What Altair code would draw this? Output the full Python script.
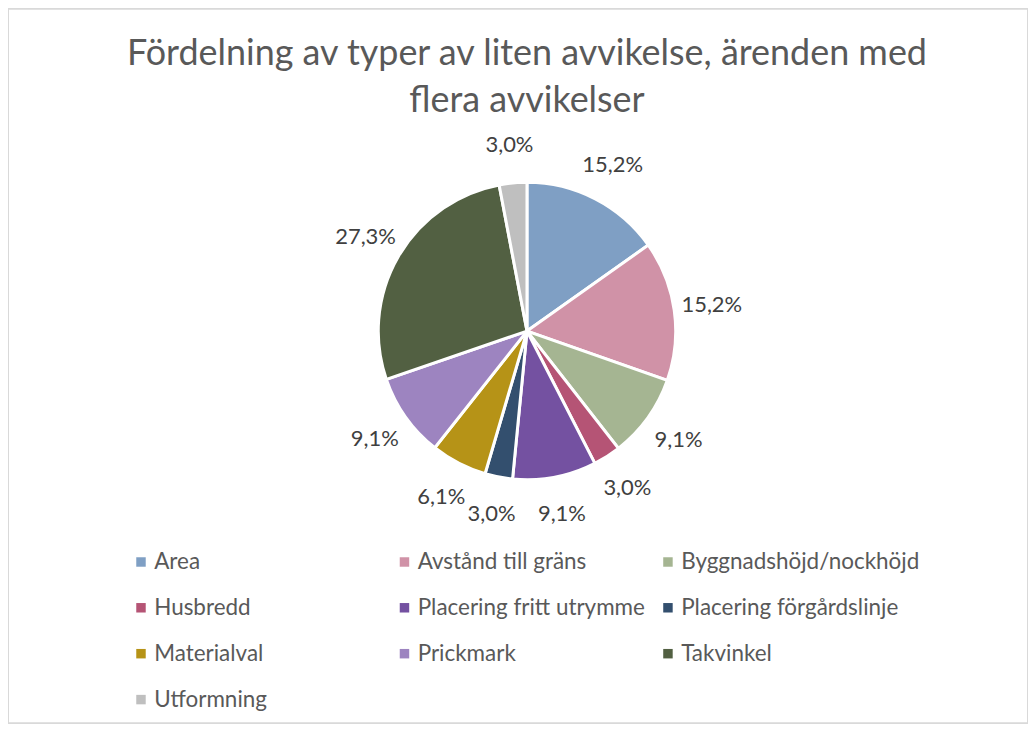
import altair as alt
import pandas as pd

categories = ["Area", "Avstånd till gräns", "Byggnadshöjd/nockhöjd", "Husbredd",
              "Placering fritt utrymme", "Placering förgårdslinje", "Materialval",
              "Prickmark", "Takvinkel", "Utformning"]
values = [15.2, 15.2, 9.1, 3.0, 9.1, 3.0, 6.1, 9.1, 27.3, 3.0]
colors = ["#7F9FC4", "#D092A7", "#A5B592", "#B55475", "#7451A1",
          "#334F6E", "#B69317", "#9D84C0", "#526042", "#BFBFBF"]
title_lines = ["Fördelning av typer av liten avvikelse, ärenden med", "flera avvikelser"]

df = pd.DataFrame({
    "kategori": categories,
    "andel": values,
    "ordning": list(range(len(categories))),
    "etikett": [f"{v:.1f}".replace(".", ",") + "%" for v in values],
})

FONT = "Lato"
CX, CY = 520, 323

base = alt.Chart(df).encode(
    theta=alt.Theta("andel:Q", stack=True),
    order=alt.Order("ordning:Q"),
    x=alt.value(CX),
    y=alt.value(CY),
)

pie = base.mark_arc(outerRadius=149, stroke="white", strokeWidth=3).encode(
    color=alt.Color(
        "kategori:N",
        scale=alt.Scale(domain=categories, range=colors),
        legend=alt.Legend(
            title=None,
            orient="none",
            direction="horizontal",
            legendX=122,
            legendY=543,
            padding=0,
            columns=3,
            gridAlign="all",
            columnPadding=0,
            rowPadding=23,
            symbolType="square",
            symbolSize=90,
            symbolStrokeWidth=0,
            labelFont=FONT,
            labelFontSize=22.5,
            labelColor="#595959",
            labelLimit=400,
            labelOffset=2,
            labelPadding=0,
        ),
    )
)

labels = base.mark_text(radius=187, font=FONT, fontSize=22, color="#404040").encode(
    text="etikett:N"
)

title = alt.Chart(pd.DataFrame({"t": [0]})).mark_text(
    text=title_lines, font=FONT, fontSize=36, color="#595959",
    lineHeight=48, align="center", baseline="top"
).encode(x=alt.value(520), y=alt.value(28))

chart = alt.layer(pie, labels, title).properties(
    width=1022, height=716, padding=0, autosize="none"
).configure_view(stroke="#D9D9D9", strokeWidth=2)

chart.save("out.html", embed_options={"renderer": "svg", "actions": False})
